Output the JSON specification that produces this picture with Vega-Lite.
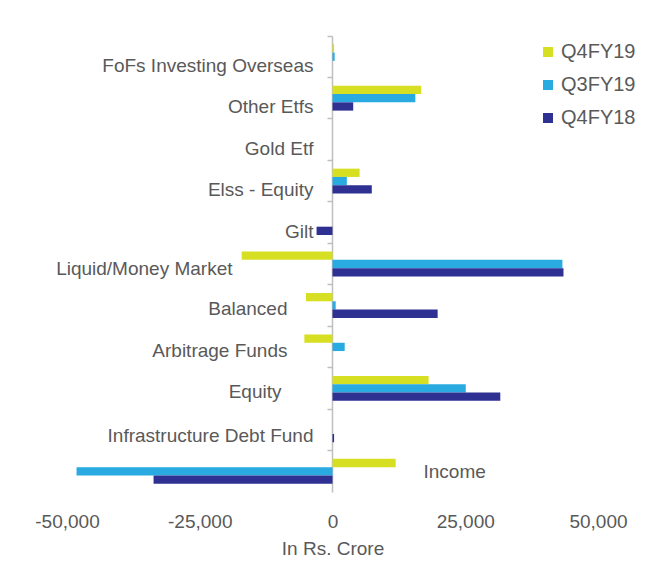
{
  "$schema": "https://vega.github.io/schema/vega-lite/v6.json",
  "width": 531,
  "height": 456,
  "autosize": "none",
  "padding": {"left": 67, "top": 36, "right": 48, "bottom": 91},
  "background": "white",
  "config": {
    "view": {"stroke": null},
    "font": "Liberation Sans",
    "text": {"font": "Liberation Sans", "fontSize": 19, "color": "#595959", "baseline": "middle"}
  },
  "data": {
    "values": [
      {"category": "FoFs Investing Overseas", "series": "Q4FY19", "value": 300},
      {"category": "FoFs Investing Overseas", "series": "Q3FY19", "value": 400},
      {"category": "FoFs Investing Overseas", "series": "Q4FY18", "value": 0},
      {"category": "Other Etfs", "series": "Q4FY19", "value": 16700},
      {"category": "Other Etfs", "series": "Q3FY19", "value": 15600},
      {"category": "Other Etfs", "series": "Q4FY18", "value": 3900},
      {"category": "Gold Etf", "series": "Q4FY19", "value": 0},
      {"category": "Gold Etf", "series": "Q3FY19", "value": 0},
      {"category": "Gold Etf", "series": "Q4FY18", "value": 0},
      {"category": "Elss - Equity", "series": "Q4FY19", "value": 5100},
      {"category": "Elss - Equity", "series": "Q3FY19", "value": 2700},
      {"category": "Elss - Equity", "series": "Q4FY18", "value": 7400},
      {"category": "Gilt", "series": "Q4FY19", "value": 0},
      {"category": "Gilt", "series": "Q3FY19", "value": 0},
      {"category": "Gilt", "series": "Q4FY18", "value": -3000},
      {"category": "Liquid/Money Market", "series": "Q4FY19", "value": -17100},
      {"category": "Liquid/Money Market", "series": "Q3FY19", "value": 43300},
      {"category": "Liquid/Money Market", "series": "Q4FY18", "value": 43500},
      {"category": "Balanced", "series": "Q4FY19", "value": -5000},
      {"category": "Balanced", "series": "Q3FY19", "value": 600},
      {"category": "Balanced", "series": "Q4FY18", "value": 19800},
      {"category": "Arbitrage Funds", "series": "Q4FY19", "value": -5300},
      {"category": "Arbitrage Funds", "series": "Q3FY19", "value": 2300},
      {"category": "Arbitrage Funds", "series": "Q4FY18", "value": 0},
      {"category": "Equity", "series": "Q4FY19", "value": 18100},
      {"category": "Equity", "series": "Q3FY19", "value": 25100},
      {"category": "Equity", "series": "Q4FY18", "value": 31600},
      {"category": "Infrastructure Debt Fund", "series": "Q4FY19", "value": 0},
      {"category": "Infrastructure Debt Fund", "series": "Q3FY19", "value": 0},
      {"category": "Infrastructure Debt Fund", "series": "Q4FY18", "value": 300},
      {"category": "Income", "series": "Q4FY19", "value": 11900},
      {"category": "Income", "series": "Q3FY19", "value": -48200},
      {"category": "Income", "series": "Q4FY18", "value": -33700}
    ]
  },
  "layer": [
    {
      "mark": {"type": "bar"},
      "encoding": {
        "y": {
          "field": "category",
          "type": "nominal",
          "scale": {
            "domain": ["FoFs Investing Overseas", "Other Etfs", "Gold Etf", "Elss - Equity", "Gilt", "Liquid/Money Market", "Balanced", "Arbitrage Funds", "Equity", "Infrastructure Debt Fund", "Income"],
            "paddingInner": 0,
            "paddingOuter": 0
          },
          "axis": {
            "title": null,
            "labels": false,
            "offset": -265,
            "bandPosition": 0,
            "domainColor": "#bfbfbf",
            "domainWidth": 1.5,
            "tickColor": "#bfbfbf",
            "tickWidth": 1.5,
            "tickSize": 5
          }
        },
        "yOffset": {
          "field": "series",
          "type": "nominal",
          "sort": ["Q4FY19", "Q3FY19", "Q4FY18"],
          "scale": {"paddingInner": 0, "paddingOuter": 1.2}
        },
        "x": {
          "field": "value",
          "type": "quantitative",
          "scale": {"domain": [-50000, 50000], "nice": false},
          "axis": {
            "values": [-50000, -25000, 0, 25000, 50000],
            "format": ",d",
            "labelExpr": "replace(datum.label, '\u2212', '-')",
            "domain": false,
            "ticks": false,
            "grid": false,
            "labelFont": "Liberation Sans",
            "labelFontSize": 19,
            "labelColor": "#595959",
            "labelPadding": 20,
            "labelFlush": false,
            "title": "In Rs. Crore",
            "titleFont": "Liberation Sans",
            "titleFontSize": 19,
            "titleFontWeight": "normal",
            "titleColor": "#595959",
            "titlePadding": 8
          }
        },
        "color": {
          "field": "series",
          "type": "nominal",
          "sort": ["Q4FY19", "Q3FY19", "Q4FY18"],
          "scale": {
            "domain": ["Q4FY19", "Q3FY19", "Q4FY18"],
            "range": ["#d7df23", "#29abe2", "#2e3192"]
          },
          "legend": {
            "title": null,
            "orient": "none",
            "legendX": 471,
            "legendY": 6,
            "symbolType": "square",
            "symbolSize": 100,
            "symbolStrokeWidth": 0,
            "labelFont": "Liberation Sans",
            "labelFontSize": 20,
            "labelColor": "#595959",
            "labelOffset": 3,
            "rowPadding": 13
          }
        }
      }
    },
    {
      "transform": [
        {"filter": {"field": "series", "equal": "Q4FY19"}},
        {"filter": {"field": "category", "oneOf": ["FoFs Investing Overseas", "Other Etfs", "Gold Etf", "Elss - Equity", "Gilt"]}}
      ],
      "mark": {"type": "text", "align": "right", "dx": -19, "dy": 9},
      "encoding": {
        "y": {"field": "category", "type": "nominal"},
        "x": {"datum": 0, "type": "quantitative"},
        "text": {"field": "category"}
      }
    },
    {
      "transform": [
        {"filter": {"field": "series", "equal": "Q4FY19"}},
        {"filter": {"field": "category", "equal": "Infrastructure Debt Fund"}}
      ],
      "mark": {"type": "text", "align": "right", "dx": -19, "dy": 6},
      "encoding": {
        "y": {"field": "category", "type": "nominal"},
        "x": {"datum": 0, "type": "quantitative"},
        "text": {"field": "category"}
      }
    },
    {
      "transform": [
        {"filter": {"field": "series", "equal": "Q4FY19"}},
        {"filter": {"field": "category", "equal": "Liquid/Money Market"}}
      ],
      "mark": {"type": "text", "align": "right", "dx": -100, "dy": 5},
      "encoding": {
        "y": {"field": "category", "type": "nominal"},
        "x": {"datum": 0, "type": "quantitative"},
        "text": {"field": "category"}
      }
    },
    {
      "transform": [
        {"filter": {"field": "series", "equal": "Q4FY19"}},
        {"filter": {"field": "category", "oneOf": ["Balanced", "Arbitrage Funds"]}}
      ],
      "mark": {"type": "text", "align": "right", "dx": -45, "dy": 4},
      "encoding": {
        "y": {"field": "category", "type": "nominal"},
        "x": {"datum": 0, "type": "quantitative"},
        "text": {"field": "category"}
      }
    },
    {
      "transform": [
        {"filter": {"field": "series", "equal": "Q4FY19"}},
        {"filter": {"field": "category", "equal": "Equity"}}
      ],
      "mark": {"type": "text", "align": "right", "dx": -51, "dy": 4},
      "encoding": {
        "y": {"field": "category", "type": "nominal"},
        "x": {"datum": 0, "type": "quantitative"},
        "text": {"field": "category"}
      }
    },
    {
      "transform": [
        {"filter": {"field": "series", "equal": "Q4FY19"}},
        {"filter": {"field": "category", "equal": "Income"}}
      ],
      "mark": {"type": "text", "align": "left", "dx": 91, "dy": 1},
      "encoding": {
        "y": {"field": "category", "type": "nominal"},
        "x": {"datum": 0, "type": "quantitative"},
        "text": {"field": "category"}
      }
    }
  ]
}
